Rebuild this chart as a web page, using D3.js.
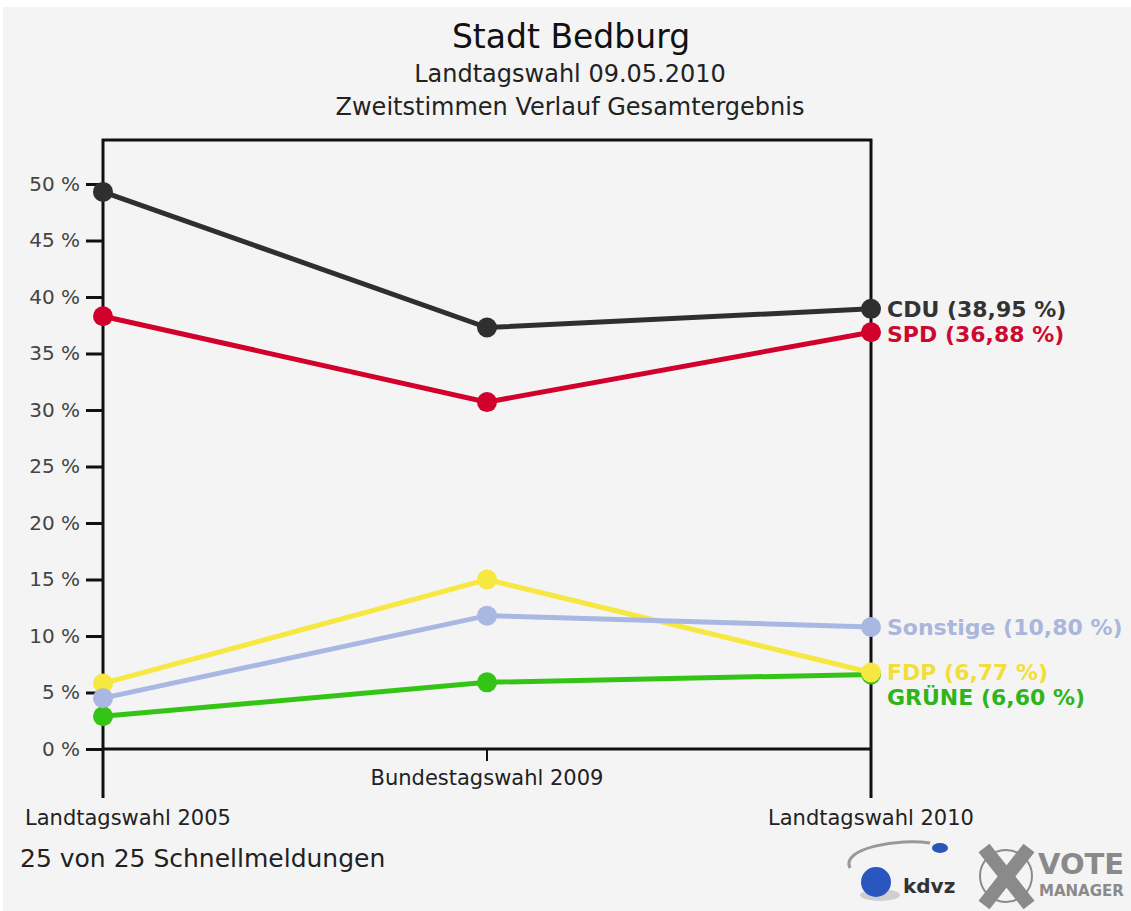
<!DOCTYPE html>
<html>
<head>
<meta charset="utf-8">
<script src="https://cdn.jsdelivr.net/npm/d3@7"></script>
<style>
  body { margin: 0; background: #ffffff; }
  text { font-family: "DejaVu Sans", sans-serif; }
</style>
</head>
<body>
<script>
var w = 1131;
var h = 911;

// data
var elections = ["Landtagswahl 2005", "Bundestagswahl 2009", "Landtagswahl 2010"];
var parties = ["CDU", "SPD", "GRÜNE", "FDP", "Sonstige"];
var cdu = [49.3, 37.3, 38.95];
var spd = [38.3, 30.7, 36.88];
var gruene = [2.9, 5.9, 6.60];
var fdp = [5.8, 15.0, 6.77];
var sonstige = [4.5, 11.8, 10.80];
var yTicks = [0, 5, 10, 15, 20, 25, 30, 35, 40, 45, 50];

var colors = ["#2f2f2f", "#d2002c", "#34c415", "#f6e741", "#a9b8e2"];
var labelColors = ["#333333", "#cc0a30", "#2fb51b", "#f2de3a", "#aab6dc"];
var series = [cdu, spd, gruene, fdp, sonstige];

// plot box (note: "top" is taken by window.top, so frameTop)
var left = 103, right = 871, frameTop = 140, zeroY = 749, bottom = 798;

var svg = d3.select("body")
            .append("svg")
            .attr("width", w)
            .attr("height", h);

svg.append("rect")
   .attr("x", 3).attr("y", 7)
   .attr("width", w - 3).attr("height", h - 7)
   .attr("fill", "#f4f4f4");

/** titles **/
svg.append("text").text("Stadt Bedburg")
   .attr("x", 571).attr("y", 48)
   .attr("text-anchor", "middle")
   .attr("font-size", 33).attr("fill", "#111");
svg.append("text").text("Landtagswahl 09.05.2010")
   .attr("x", 570).attr("y", 82)
   .attr("text-anchor", "middle")
   .attr("font-size", 24).attr("fill", "#222");
svg.append("text").text("Zweitstimmen Verlauf Gesamtergebnis")
   .attr("x", 570).attr("y", 115)
   .attr("text-anchor", "middle")
   .attr("font-size", 24).attr("fill", "#222");

var x = d3.scalePoint().domain(elections).range([left, right]);
var y = d3.scaleLinear().domain([0, 50]).range([zeroY, 184]);

/** frame **/
var frame = svg.append("g")
   .attr("stroke", "#111").attr("stroke-width", 3).attr("fill", "none");
frame.append("path")
   .attr("d", "M" + left + "," + bottom + "V" + frameTop + "H" + right + "V" + bottom);
frame.append("line")
   .attr("x1", left).attr("x2", right)
   .attr("y1", zeroY).attr("y2", zeroY);

/** y axis **/
var yAxis = d3.axisLeft(y)
   .tickValues(yTicks)
   .tickSize(17)
   .tickPadding(6)
   .tickFormat(function(d){ return d + " %"; });
var gy = svg.append("g")
   .attr("transform", "translate(" + left + ",0)")
   .call(yAxis);
gy.select(".domain").remove();
gy.selectAll(".tick line").attr("stroke", "#111").attr("stroke-width", 3);
gy.selectAll(".tick text")
   .attr("font-family", "DejaVu Sans")
   .attr("font-size", 20)
   .attr("fill", "#444");

/** x axis labels **/
svg.append("line")
   .attr("x1", x(elections[1])).attr("x2", x(elections[1]))
   .attr("y1", zeroY).attr("y2", 761)
   .attr("stroke", "#111").attr("stroke-width", 2);

svg.selectAll("text.xlab")
   .data(elections)
   .enter()
   .append("text")
   .attr("class", "xlab")
   .text(function(d){ return d; })
   .attr("font-size", 21)
   .attr("fill", "#222")
   .attr("x", function(d, i){
      if (i == 0) return 25;
      return x(d);
   })
   .attr("text-anchor", function(d, i){ return i == 0 ? "start" : "middle"; })
   .attr("y", function(d, i){ return i == 1 ? 785 : 825; });

/** lines + points **/
var line = d3.line()
   .x(function(d, i){ return x(elections[i]); })
   .y(function(d){ return y(d); });

series.forEach(function(s, k){
  var g = svg.append("g");
  g.append("path")
   .datum(s)
   .attr("d", line)
   .attr("fill", "none")
   .attr("stroke", colors[k])
   .attr("stroke-width", 5);
  g.selectAll("circle")
   .data(s)
   .enter()
   .append("circle")
   .attr("cx", function(d, i){ return x(elections[i]); })
   .attr("cy", function(d){ return y(d); })
   .attr("r", 10)
   .attr("fill", colors[k]);
});

/** end labels, pushed apart so they do not overlap **/
var labels = parties.map(function(p, k){
  var v = series[k][series[k].length - 1];
  return { name: p, value: v, color: labelColors[k], ly: y(v) };
});
labels.sort(function(a, b){ return a.ly - b.ly; });
for (var i = 1; i < labels.length; i++) {
  if (labels[i].ly - labels[i-1].ly < 25) labels[i].ly = labels[i-1].ly + 25;
}
svg.selectAll("text.endlab")
   .data(labels)
   .enter()
   .append("text")
   .attr("class", "endlab")
   .text(function(d){ return d.name + " (" + d3.format(".2f")(d.value).replace(".", ",") + " %)"; })
   .attr("x", right + 16)
   .attr("y", function(d){ return d.ly; })
   .attr("dy", "0.36em")
   .attr("font-size", 22)
   .attr("font-weight", "bold")
   .attr("fill", function(d){ return d.color; });

/** footer **/
svg.append("text").text("25 von 25 Schnellmeldungen")
   .attr("x", 20).attr("y", 867)
   .attr("font-size", 25).attr("fill", "#222");

/** logos (rough) **/
var logo = svg.append("g");
logo.append("path")
   .attr("d", "M850,868 C840,848 900,838 930,843")
   .attr("fill", "none").attr("stroke", "#999").attr("stroke-width", 3);
logo.append("ellipse")
   .attr("cx", 940).attr("cy", 848).attr("rx", 8).attr("ry", 5)
   .attr("fill", "#2a56b8");
logo.append("ellipse")
   .attr("cx", 880).attr("cy", 895).attr("rx", 20).attr("ry", 6)
   .attr("fill", "#cfcfcf");
logo.append("circle")
   .attr("cx", 876).attr("cy", 882).attr("r", 15)
   .attr("fill", "#2a56c0");
logo.append("text").text("kdvz")
   .attr("x", 903).attr("y", 893)
   .attr("font-family", "DejaVu Serif").attr("font-weight", "bold")
   .attr("font-size", 20).attr("fill", "#333");

var vm = svg.append("g").attr("stroke", "#8a8a8a").attr("fill", "none");
vm.append("circle").attr("cx", 1006).attr("cy", 876).attr("r", 26).attr("stroke-width", 2);
vm.append("line").attr("x1", 984).attr("y1", 848).attr("x2", 1029).attr("y2", 905).attr("stroke-width", 14);
vm.append("line").attr("x1", 1029).attr("y1", 848).attr("x2", 984).attr("y2", 905).attr("stroke-width", 14);
svg.append("text").text("VOTE")
   .attr("x", 1038).attr("y", 874)
   .attr("font-family", "Liberation Sans").attr("font-weight", "bold")
   .attr("font-size", 29).attr("fill", "#8a8a8a");
svg.append("text").text("MANAGER")
   .attr("x", 1039).attr("y", 896)
   .attr("font-family", "Liberation Sans").attr("font-weight", "bold")
   .attr("font-size", 15).attr("fill", "#8a8a8a");
</script>
</body>
</html>
